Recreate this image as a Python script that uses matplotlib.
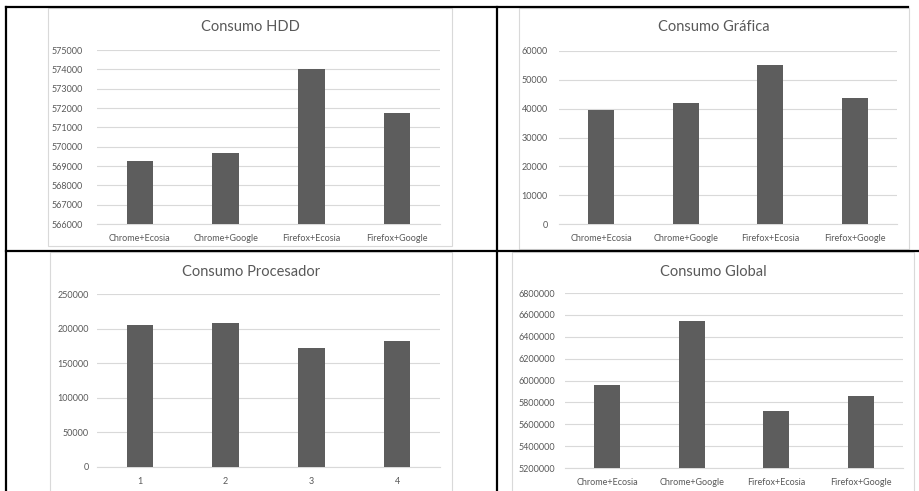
import matplotlib
matplotlib.use("Agg")
import matplotlib.pyplot as plt
from matplotlib.patches import Rectangle
from matplotlib.lines import Line2D
import numpy as np

plt.rcParams['font.family'] = ['Lato', 'DejaVu Sans']

W, H = 920, 491
BAR = "#5d5d5d"; GRID = "#d9d9d9"; TXT = "#595959"

combos = ["Chrome+Ecosia", "Chrome+Google", "Firefox+Ecosia", "Firefox+Google"]
nums = ["1", "2", "3", "4"]
hdd = [569250, 569650, 574000, 571720]
grafica = [39700, 42100, 55200, 43800]
procesador = [205300, 207700, 172200, 182400]
total = [5963000, 6548000, 5721000, 5858000]

fig = plt.figure(figsize=(W / 100, H / 100), dpi=100)

def fx(x): return x / W
def fy(y): return 1 - y / H

def frame(x0, y0, x1, y1):
    fig.patches.append(Rectangle((fx(x0), fy(y1)), fx(x1) - fx(x0), fy(y0) - fy(y1),
                                 transform=fig.transFigure, fc="white", ec=GRID, lw=0.8, zorder=-1))

def panel(box, title, title_xy, labels, vals, ylim, step, pad):
    x0, y0, x1, y1 = box  # plot area in pixels
    ax = fig.add_axes([fx(x0), fy(y1), fx(x1) - fx(x0), fy(y0) - fy(y1)])
    ax.set_facecolor("none")
    ax.bar(np.arange(len(vals)), vals, width=0.31, color=BAR, zorder=3)
    ax.set_xlim(-0.5, len(vals) - 0.5)
    ax.set_ylim(*ylim)
    ax.set_yticks(np.arange(ylim[0], ylim[1] + step / 2, step))
    ax.set_xticks(np.arange(len(vals)))
    ax.set_xticklabels(labels)
    ax.ticklabel_format(axis="y", style="plain", useOffset=False)
    ax.yaxis.grid(True, color=GRID, lw=0.8, zorder=0)
    for s in ["top", "right", "left"]:
        ax.spines[s].set_visible(False)
    ax.spines["bottom"].set_color(GRID)
    ax.tick_params(axis="both", length=0, labelsize=6.5, labelcolor=TXT)
    ax.tick_params(axis="y", pad=pad)
    ax.tick_params(axis="x", pad=7.5)
    fig.text(fx(title_xy[0]), fy(title_xy[1]), title, ha="center", va="center",
             fontsize=10.5, color=TXT)
    return ax

frame(48, 8, 452, 246)
frame(519, 8, 909, 249)
frame(50, 252, 452, 495)
frame(512, 252, 914, 495)

panel((97, 50, 440, 224), "Consumo HDD", (250, 27), combos, hdd, (566000, 575000), 1000, 10)
panel((559, 51, 897, 224), "Consumo Gráfica", (714, 27), combos, grafica, (0, 60000), 10000, 8)
panel((97, 294, 440, 467), "Consumo Procesador", (251, 272), nums, procesador, (0, 250000), 50000, 6)
panel((565, 293, 903, 468), "Consumo Global", (713, 272), combos, total, (5200000, 6800000), 200000, 7)

# table border lines from the source document
for (xa, ya, xb, yb) in [(6, 7, 908, 7), (6, 7, 6, 491), (497, 7, 497, 491), (6, 251, 920, 251)]:
    fig.lines.append(Line2D([fx(xa), fx(xb)], [fy(ya), fy(yb)], transform=fig.transFigure,
                            color="black", lw=1.6, zorder=10))

fig.savefig("out.png", dpi=100)
